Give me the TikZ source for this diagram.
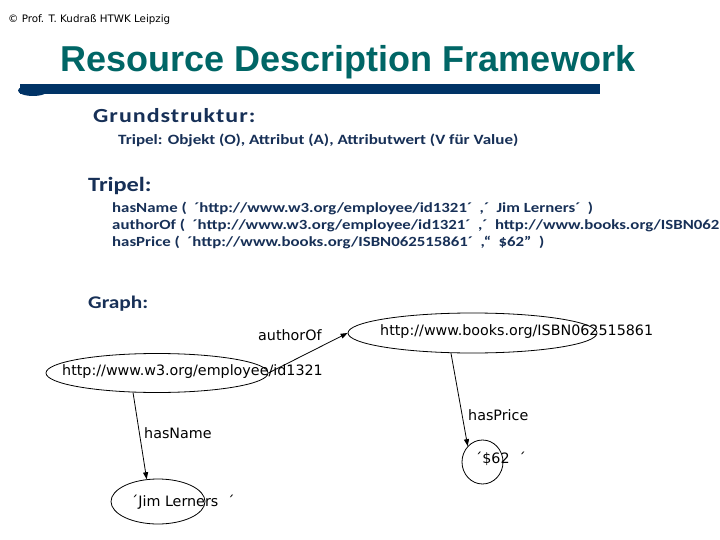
\documentclass[tikz,border=0pt]{standalone}
\usepackage{fontspec}
\setmainfont{Liberation Sans}
\newfontfamily\carl[FakeStretch=1.2]{Carlito}
\newfontfamily\carlg[FakeStretch=1.2,LetterSpace=5]{Carlito}
\newfontfamily\dvs{DejaVu Sans}
\usetikzlibrary{arrows.meta,shapes.geometric}
\definecolor{navy}{RGB}{23,48,87}
\definecolor{barblue}{RGB}{0,51,102}
\definecolor{titleteal}{RGB}{0,102,102}
\tikzset{
  ell/.style={ellipse,draw=black,line width=0.8pt,inner sep=0pt},
  gtext/.style={anchor=west,inner sep=0pt,font=\dvs\fontsize{14.3}{16}\selectfont,text=black},
  arr/.style={line width=0.8pt,-{Triangle[length=7pt,width=5pt]}},
  body/.style={anchor=base west,inner sep=0pt,text=navy},
  line/.style={body,font=\carl\bfseries\fontsize{14}{16}\selectfont},
}
\begin{document}
\begin{tikzpicture}[x=1pt,y=-1pt]
\useasboundingbox[fill=white] (0,0) rectangle (720,540);
% header
\node[anchor=west,inner sep=0pt,font=\dvs\fontsize{10.3}{12}\selectfont] (hdr) at (8,20) {© Prof. T. Kudraß HTWK Leipzig};
% title
\node[anchor=base,inner sep=0pt,text=titleteal,font=\bfseries\fontsize{36}{40}\selectfont] (title) at (348,72) {Resource Description Framework};
% bar
\fill[barblue] (20,84) rectangle (600,94);
\fill[barblue] (33,90.5) ellipse [x radius=15, y radius=5.5];
% body text
\node[body,font=\carlg\bfseries\fontsize{20}{22}\selectfont] (grund) at (93,123) {Grundstruktur:};
\node[body,font=\carl\bfseries\fontsize{14.2}{16}\selectfont] (tri0) at (118,145) {Tripel: Objekt (O), Attribut (A), Attributwert (V für Value)};
\node[body,font=\carl\bfseries\fontsize{20.3}{24}\selectfont] (tripel) at (88,192) {Tripel:};
\node[line] (l1) at (112,213) {hasName (\ \ ´http://www.w3.org/employee/id1321´\ \ ,´\ \ Jim Lerners´\ \ )};
\node[line] (l2) at (112,229.5) {authorOf (\ \ ´http://www.w3.org/employee/id1321´\ \ ,´\ \ http://www.books.org/ISBN062};
\node[line] (l3) at (112,246) {hasPrice (\ \ ´http://www.books.org/ISBN062515861´\ \ ,“\ \ \$62”\ \ )};
\node[body,font=\carl\bfseries\fontsize{17.8}{22}\selectfont] (graph) at (88,308) {Graph:};
% graph ellipses
\node[ell,minimum width=222pt,minimum height=39pt] (emp) at (157,373) {};
\node[ell,minimum width=249pt,minimum height=40pt] (books) at (472.5,333) {};
\node[ell,minimum width=94pt,minimum height=45pt] (jim) at (158,501.5) {};
\node[ell,minimum width=41pt,minimum height=44pt] (d62) at (482.5,462) {};
% graph texts
\node[gtext] (empt) at (62,372) {http://www.w3.org/employee/id1321};
\node[gtext] (bookst) at (380,332) {http://www.books.org/ISBN062515861};
\node[gtext] (jimt) at (131,502) {´Jim Lerners\ \ ´};
\node[gtext] (d62t) at (475,459) {´\$62\ \ ´};
% labels
\node[gtext] (lauth) at (258,335) {authorOf};
\node[gtext] (lname) at (144,433) {hasName};
\node[gtext] (lprice) at (468,415) {hasPrice};
% connectors
\draw[arr] (emp.east) -- (books.west);
\draw[arr] (emp.219.5) -- (jim.117);
\draw[arr] (books.223) -- (d62.133);
\end{tikzpicture}
\end{document}
